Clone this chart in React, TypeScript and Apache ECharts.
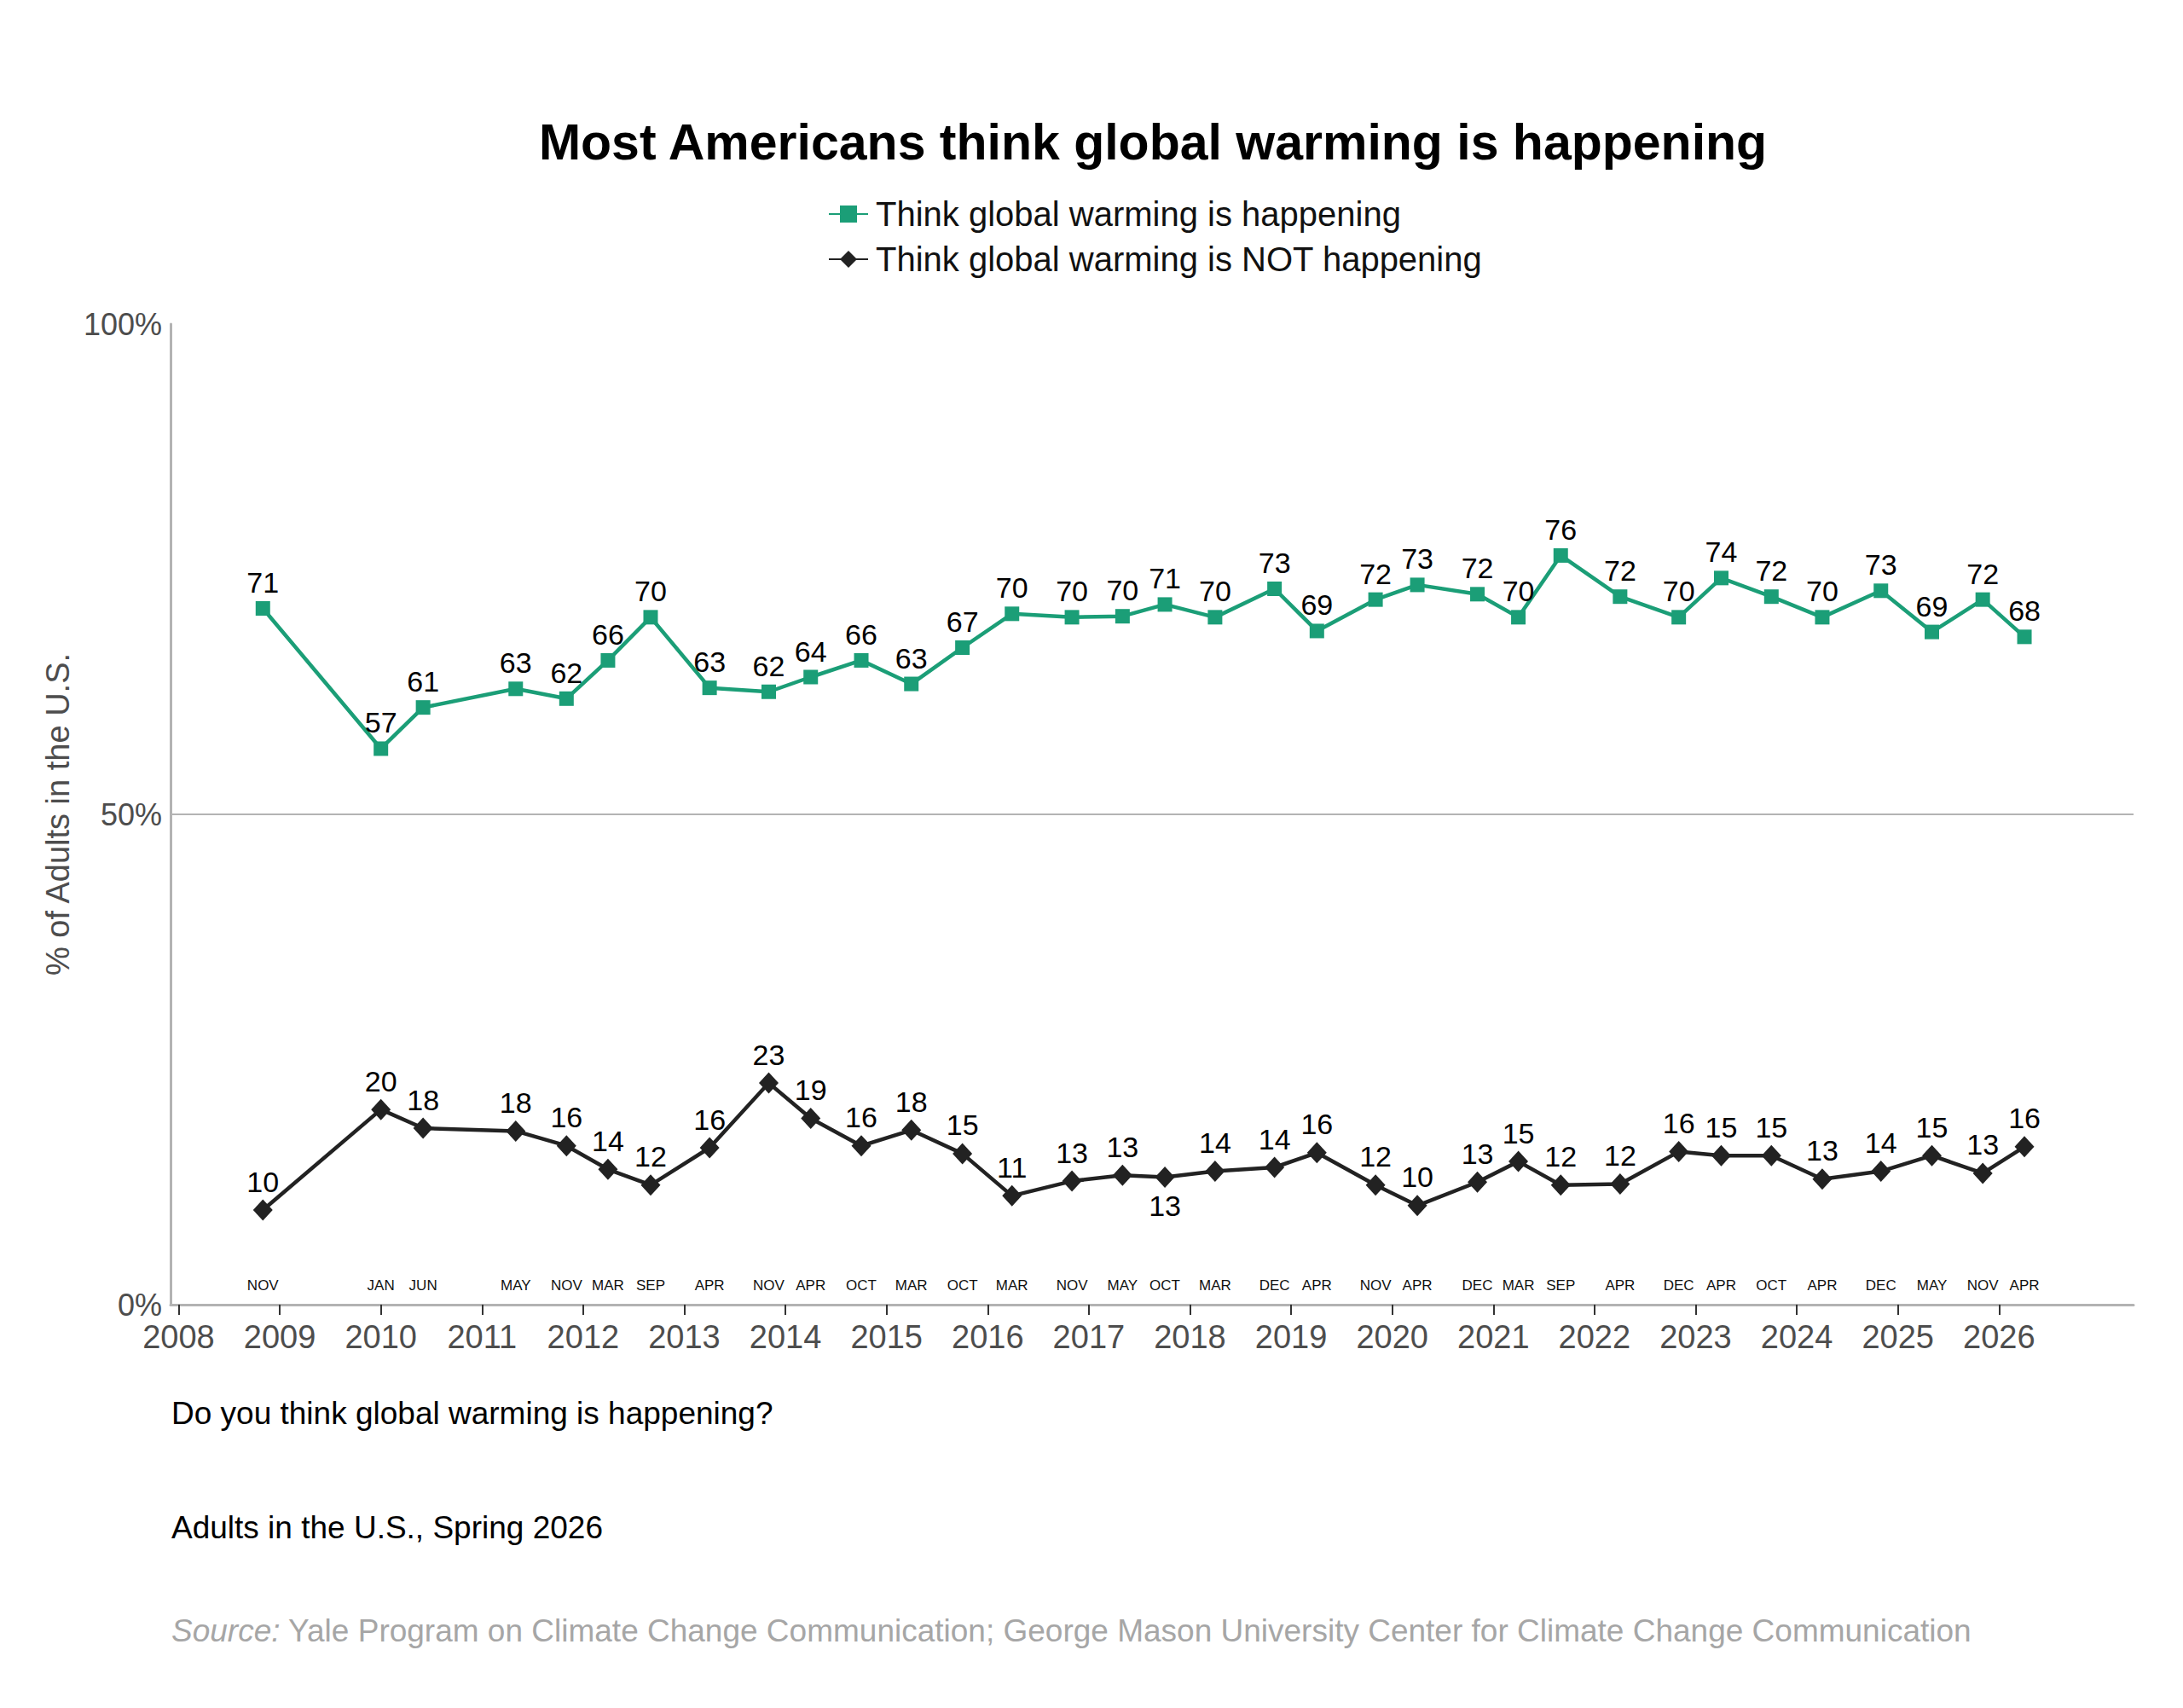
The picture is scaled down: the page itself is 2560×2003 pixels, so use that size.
import React, { useEffect, useRef } from "react";
import * as echarts from "echarts";

const SURVEY_DATES = [2008.833, 2010.0, 2010.417, 2011.333, 2011.835, 2012.245, 2012.667, 2013.25, 2013.835, 2014.25, 2014.75, 2015.245, 2015.75, 2016.24, 2016.833, 2017.333, 2017.752, 2018.248, 2018.836, 2019.255, 2019.835, 2020.248, 2020.842, 2021.247, 2021.666, 2022.253, 2022.833, 2023.253, 2023.749, 2024.252, 2024.832, 2025.336, 2025.839, 2026.251];
const SURVEY_MONTHS = ["NOV", "JAN", "JUN", "MAY", "NOV", "MAR", "SEP", "APR", "NOV", "APR", "OCT", "MAR", "OCT", "MAR", "NOV", "MAY", "OCT", "MAR", "DEC", "APR", "NOV", "APR", "DEC", "MAR", "SEP", "APR", "DEC", "APR", "OCT", "APR", "DEC", "MAY", "NOV", "APR"];

const HAPPENING = [71.0, 56.7, 60.9, 62.8, 61.8, 65.7, 70.1, 62.9, 62.5, 64.0, 65.7, 63.3, 67.0, 70.45, 70.1, 70.2, 71.4, 70.1, 73.0, 68.7, 71.9, 73.4, 72.45, 70.1, 76.4, 72.2, 70.1, 74.1, 72.2, 70.1, 72.8, 68.6, 71.9, 68.1];
const HAPPENING_LABELS = [71, 57, 61, 63, 62, 66, 70, 63, 62, 64, 66, 63, 67, 70, 70, 70, 71, 70, 73, 69, 72, 73, 72, 70, 76, 72, 70, 74, 72, 70, 73, 69, 72, 68];

const NOT_HAPPENING = [9.65, 19.9, 18.0, 17.7, 16.2, 13.8, 12.2, 16.0, 22.6, 19.0, 16.2, 17.8, 15.4, 11.1, 12.6, 13.2, 13.0, 13.6, 14.0, 15.5, 12.2, 10.1, 12.5, 14.6, 12.2, 12.3, 15.6, 15.2, 15.2, 12.8, 13.6, 15.2, 13.4, 16.1];
const NOT_HAPPENING_LABELS = [10, 20, 18, 18, 16, 14, 12, 16, 23, 19, 16, 18, 15, 11, 13, 13, 13, 14, 14, 16, 12, 10, 13, 15, 12, 12, 16, 15, 15, 13, 14, 15, 13, 16];

const YEAR_TICKS = [2008, 2009, 2010, 2011, 2012, 2013, 2014, 2015, 2016, 2017, 2018, 2019, 2020, 2021, 2022, 2023, 2024, 2025, 2026];
const Y_TICKS_LABEL = "{value}%";

const TITLE = "Most Americans think global warming is happening";
const SERIES_NAMES = ["Think global warming is happening", "Think global warming is NOT happening"];
const Y_NAME = "% of Adults in the U.S.";
const NOTE_1 = "Do you think global warming is happening?";
const NOTE_2 = "Adults in the U.S., Spring 2026";
const SOURCE_LEAD = "Source:";
const SOURCE_TEXT = " Yale Program on Climate Change Communication; George Mason University Center for Climate Change Communication";

const FONT = '"Liberation Sans", Arial, Helvetica, sans-serif';
const GREEN = "#1b9e77";
const DARK = "#222222";
const AXIS_GRAY = "#b3b3b3";
const TEXT_GRAY = "#4d4d4d";

const X_MIN = 2007.92;
const X_MAX = 2027.33;
const NOT_LABEL_BELOW = [16];

export default function App() {
  const ref = useRef<HTMLDivElement>(null);

  useEffect(() => {
    document.body.style.margin = "0";
    if (!ref.current) return;
    const chart = echarts.init(ref.current, undefined, { renderer: "svg" });

    const monthFor = (v: number) => {
      let best = 0;
      let bd = Infinity;
      SURVEY_DATES.forEach((x, i) => {
        const d = Math.abs(x - v);
        if (d < bd) {
          bd = d;
          best = i;
        }
      });
      return SURVEY_MONTHS[best];
    };

    const option: any = {
      animation: false,
      textStyle: { fontFamily: FONT },
      grid: { left: 200, right: 58, top: 380, bottom: 473, containLabel: false },
      legend: {
        orient: "vertical",
        left: 966,
        top: 226,
        itemWidth: 46,
        itemHeight: 25,
        itemGap: 13,
        textStyle: { fontSize: 40, color: "#111111", fontFamily: FONT, padding: [0, 0, 0, 4] },
        data: SERIES_NAMES,
      },
      xAxis: [
        {
          type: "value",
          min: X_MIN,
          max: X_MAX,
          axisLine: { show: true, lineStyle: { color: AXIS_GRAY, width: 3 } },
          axisTick: { show: true, customValues: YEAR_TICKS, length: 12, lineStyle: { color: "#333333", width: 2 } },
          axisLabel: {
            customValues: YEAR_TICKS,
            fontSize: 38,
            color: TEXT_GRAY,
            margin: 19,
            fontFamily: FONT,
            formatter: (v: number) => String(Math.round(v)),
          },
          splitLine: { show: false },
        },
        {
          type: "value",
          min: X_MIN,
          max: X_MAX,
          position: "bottom",
          axisLine: { show: false },
          axisTick: { show: false },
          splitLine: { show: false },
          axisLabel: {
            inside: true,
            customValues: SURVEY_DATES,
            fontSize: 17,
            color: "#111111",
            margin: 14,
            fontFamily: FONT,
            formatter: (v: number) => monthFor(v),
          },
        },
      ],
      yAxis: {
        type: "value",
        min: 0,
        max: 100,
        interval: 50,
        axisLine: { show: true, lineStyle: { color: AXIS_GRAY, width: 3 } },
        axisTick: { show: false },
        axisLabel: { formatter: Y_TICKS_LABEL, fontSize: 36, color: TEXT_GRAY, margin: 10, fontFamily: FONT },
        splitLine: { show: true, showMinLine: false, showMaxLine: false, lineStyle: { color: AXIS_GRAY, width: 2 } },
        name: Y_NAME,
        nameLocation: "middle",
        nameGap: 102,
        nameTextStyle: { fontSize: 38, color: TEXT_GRAY, fontFamily: FONT },
      },
      series: [
        {
          name: SERIES_NAMES[0],
          type: "line",
          xAxisIndex: 0,
          data: SURVEY_DATES.map((x, i) => [x, HAPPENING[i]]),
          symbol: "rect",
          symbolSize: 17,
          lineStyle: { color: GREEN, width: 4.5 },
          itemStyle: { color: GREEN },
          label: {
            show: true,
            position: "top",
            distance: 5,
            fontSize: 34,
            color: "#000000",
            fontFamily: FONT,
            formatter: (p: any) => String(HAPPENING_LABELS[p.dataIndex]),
          },
        },
        {
          name: SERIES_NAMES[1],
          type: "line",
          xAxisIndex: 0,
          data: SURVEY_DATES.map((x, i) =>
            NOT_LABEL_BELOW.includes(i)
              ? { value: [x, NOT_HAPPENING[i]], label: { position: "bottom" } }
              : [x, NOT_HAPPENING[i]]
          ),
          symbol: "diamond",
          symbolSize: [23, 25],
          lineStyle: { color: DARK, width: 4.5 },
          itemStyle: { color: DARK },
          label: {
            show: true,
            position: "top",
            distance: 4,
            fontSize: 34,
            color: "#000000",
            fontFamily: FONT,
            formatter: (p: any) => String(NOT_HAPPENING_LABELS[p.dataIndex]),
          },
        },
      ],
      graphic: [
        {
          type: "text",
          x: 1352,
          y: 167,
          style: { text: TITLE, fontSize: 59, fontWeight: "bold", fontFamily: FONT, fill: "#000000", align: "center", verticalAlign: "middle" },
        },
        {
          type: "text",
          x: 201,
          y: 1657,
          style: { text: NOTE_1, fontSize: 37, fontFamily: FONT, fill: "#000000", align: "left", verticalAlign: "middle" },
        },
        {
          type: "text",
          x: 201,
          y: 1791,
          style: { text: NOTE_2, fontSize: 37, fontFamily: FONT, fill: "#000000", align: "left", verticalAlign: "middle" },
        },
        {
          type: "text",
          x: 201,
          y: 1912,
          style: {
            text: "{i|" + SOURCE_LEAD + "}{n|" + SOURCE_TEXT + "}",
            fontSize: 37,
            fontFamily: FONT,
            fill: "#a6a6a6",
            align: "left",
            verticalAlign: "middle",
            rich: {
              i: { fontStyle: "italic", fontSize: 37, fontFamily: FONT, fill: "#a6a6a6" },
              n: { fontSize: 37, fontFamily: FONT, fill: "#a6a6a6" },
            },
          },
        },
      ],
    };

    chart.setOption(option);
    return () => chart.dispose();
  }, []);

  return <div ref={ref} style={{ width: 2560, height: 2003 }} />;
}
